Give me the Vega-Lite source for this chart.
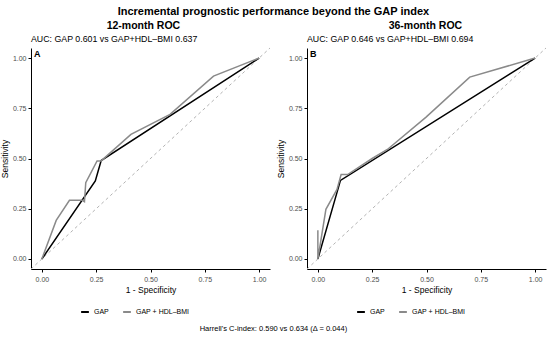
{
  "$schema": "https://vega.github.io/schema/vega-lite/v6.json",
  "padding": {"left": 0, "right": 5, "top": 6, "bottom": 2},
  "config": {
    "font": "Liberation Sans",
    "view": {"stroke": null},
    "axis": {"grid": false, "domainColor": "black", "tickColor": "black", "tickSize": 3, "labelFontSize": 7, "labelColor": "#4d4d4d", "titleFontSize": 8.5, "titleFontWeight": "normal", "titleColor": "black", "labelPadding": 2, "titlePadding": 3, "domainWidth": 1, "tickWidth": 1},
    "axisX": {"labelPadding": 3},
    "legend": {"orient": "bottom", "direction": "horizontal", "labelFontSize": 7, "labelColor": "black", "symbolType": "stroke", "symbolStrokeWidth": 2, "symbolSize": 60, "columnPadding": 10, "offset": 13, "layout": {"bottom": {"anchor": "middle"}}}
  },
  "title": {"text": "Incremental prognostic performance beyond the GAP index", "fontSize": 11, "fontWeight": "bold", "anchor": "middle", "offset": 4},
  "datasets": {
    "roc12": [
      {"model": "GAP", "i": 1, "fpr": 0, "tpr": 0},
      {"model": "GAP", "i": 2, "fpr": 0.246, "tpr": 0.388},
      {"model": "GAP", "i": 3, "fpr": 0.273, "tpr": 0.49},
      {"model": "GAP", "i": 4, "fpr": 1, "tpr": 1},
      {"model": "GAP + HDL–BMI", "i": 1, "fpr": 0, "tpr": 0},
      {"model": "GAP + HDL–BMI", "i": 2, "fpr": 0.066, "tpr": 0.192},
      {"model": "GAP + HDL–BMI", "i": 3, "fpr": 0.127, "tpr": 0.292},
      {"model": "GAP + HDL–BMI", "i": 4, "fpr": 0.186, "tpr": 0.292},
      {"model": "GAP + HDL–BMI", "i": 5, "fpr": 0.196, "tpr": 0.285},
      {"model": "GAP + HDL–BMI", "i": 6, "fpr": 0.202, "tpr": 0.38},
      {"model": "GAP + HDL–BMI", "i": 7, "fpr": 0.254, "tpr": 0.488},
      {"model": "GAP + HDL–BMI", "i": 8, "fpr": 0.273, "tpr": 0.488},
      {"model": "GAP + HDL–BMI", "i": 9, "fpr": 0.41, "tpr": 0.62},
      {"model": "GAP + HDL–BMI", "i": 10, "fpr": 0.59, "tpr": 0.72},
      {"model": "GAP + HDL–BMI", "i": 11, "fpr": 0.79, "tpr": 0.91},
      {"model": "GAP + HDL–BMI", "i": 12, "fpr": 1, "tpr": 1}
    ],
    "roc36": [
      {"model": "GAP", "i": 1, "fpr": 0, "tpr": 0},
      {"model": "GAP", "i": 2, "fpr": 0.104, "tpr": 0.391},
      {"model": "GAP", "i": 3, "fpr": 1, "tpr": 1},
      {"model": "GAP + HDL–BMI", "i": 1, "fpr": 0, "tpr": 0.143},
      {"model": "GAP + HDL–BMI", "i": 2, "fpr": 0, "tpr": 0},
      {"model": "GAP + HDL–BMI", "i": 3, "fpr": 0.037, "tpr": 0.247},
      {"model": "GAP + HDL–BMI", "i": 4, "fpr": 0.088, "tpr": 0.346},
      {"model": "GAP + HDL–BMI", "i": 5, "fpr": 0.107, "tpr": 0.42},
      {"model": "GAP + HDL–BMI", "i": 6, "fpr": 0.137, "tpr": 0.42},
      {"model": "GAP + HDL–BMI", "i": 7, "fpr": 0.25, "tpr": 0.5},
      {"model": "GAP + HDL–BMI", "i": 8, "fpr": 0.32, "tpr": 0.545},
      {"model": "GAP + HDL–BMI", "i": 9, "fpr": 0.498, "tpr": 0.706},
      {"model": "GAP + HDL–BMI", "i": 10, "fpr": 0.699, "tpr": 0.905},
      {"model": "GAP + HDL–BMI", "i": 11, "fpr": 1, "tpr": 1}
    ],
    "diag": [{"x": -0.05, "y": -0.05, "x2": 1.05, "y2": 1.05}]
  },
  "vconcat": [
    {
      "title": {"text": "Harrell's C-index: 0.590 vs 0.634 (Δ = 0.044)", "orient": "bottom", "fontSize": 7.5, "fontWeight": "normal", "anchor": "middle", "offset": 9},
      "spacing": 5,
      "resolve": {"scale": {"color": "independent"}, "legend": {"color": "independent"}},
      "hconcat": [
        {
          "title": {"text": "12-month ROC", "fontSize": 10.5, "fontWeight": "bold", "anchor": "middle", "offset": 3, "dx": 8},
          "vconcat": [
            {
              "title": {"text": "AUC: GAP 0.601 vs GAP+HDL–BMI 0.637", "anchor": "start", "frame": "group", "fontSize": 8.8, "fontWeight": "normal", "offset": 4},
              "width": 239,
              "height": 221,
              "layer": [
                {
                  "data": {"name": "diag"},
                  "mark": {"type": "rule", "color": "#b3b3b3", "strokeDash": [3, 3], "strokeWidth": 1},
                  "encoding": {
                    "x": {"field": "x", "type": "quantitative", "scale": {"domain": [-0.05, 1.05], "nice": false, "zero": false}},
                    "y": {"field": "y", "type": "quantitative", "scale": {"domain": [-0.05, 1.05], "nice": false, "zero": false}},
                    "x2": {"field": "x2"},
                    "y2": {"field": "y2"}
                  }
                },
                {
                  "data": {"name": "roc12"},
                  "mark": {"type": "line", "strokeWidth": 1.5},
                  "encoding": {
                    "x": {"field": "fpr", "type": "quantitative", "title": "1 - Specificity", "scale": {"domain": [-0.05, 1.05], "nice": false, "zero": false}, "axis": {"values": [0, 0.25, 0.5, 0.75, 1], "format": ".2f"}},
                    "y": {"field": "tpr", "type": "quantitative", "title": "Sensitivity", "scale": {"domain": [-0.05, 1.05], "nice": false, "zero": false}, "axis": {"values": [0, 0.25, 0.5, 0.75, 1], "format": ".2f"}},
                    "color": {"field": "model", "type": "nominal", "title": null, "scale": {"domain": ["GAP", "GAP + HDL–BMI"], "range": ["#000000", "#8a8a8a"]}},
                    "order": {"field": "i", "type": "quantitative"}
                  }
                },
                {
                  "data": {"values": [{"tag": "A", "x": -0.05, "y": 1.05}]},
                  "mark": {"type": "text", "align": "left", "baseline": "top", "fontWeight": "bold", "fontSize": 9, "dx": 3, "dy": 2},
                  "encoding": {
                    "x": {"field": "x", "type": "quantitative"},
                    "y": {"field": "y", "type": "quantitative"},
                    "text": {"field": "tag"}
                  }
                }
              ]
            }
          ]
        },
        {
          "title": {"text": "36-month ROC", "fontSize": 10.5, "fontWeight": "bold", "anchor": "middle", "offset": 3, "dx": 14},
          "vconcat": [
            {
              "title": {"text": "AUC: GAP 0.646 vs GAP+HDL–BMI 0.694", "anchor": "start", "frame": "group", "fontSize": 8.8, "fontWeight": "normal", "offset": 4},
              "width": 239,
              "height": 221,
              "layer": [
                {
                  "data": {"name": "diag"},
                  "mark": {"type": "rule", "color": "#b3b3b3", "strokeDash": [3, 3], "strokeWidth": 1},
                  "encoding": {
                    "x": {"field": "x", "type": "quantitative", "scale": {"domain": [-0.05, 1.05], "nice": false, "zero": false}},
                    "y": {"field": "y", "type": "quantitative", "scale": {"domain": [-0.05, 1.05], "nice": false, "zero": false}},
                    "x2": {"field": "x2"},
                    "y2": {"field": "y2"}
                  }
                },
                {
                  "data": {"name": "roc36"},
                  "mark": {"type": "line", "strokeWidth": 1.5},
                  "encoding": {
                    "x": {"field": "fpr", "type": "quantitative", "title": "1 - Specificity", "scale": {"domain": [-0.05, 1.05], "nice": false, "zero": false}, "axis": {"values": [0, 0.25, 0.5, 0.75, 1], "format": ".2f"}},
                    "y": {"field": "tpr", "type": "quantitative", "title": "Sensitivity", "scale": {"domain": [-0.05, 1.05], "nice": false, "zero": false}, "axis": {"values": [0, 0.25, 0.5, 0.75, 1], "format": ".2f"}},
                    "color": {"field": "model", "type": "nominal", "title": null, "scale": {"domain": ["GAP", "GAP + HDL–BMI"], "range": ["#000000", "#8a8a8a"]}},
                    "order": {"field": "i", "type": "quantitative"}
                  }
                },
                {
                  "data": {"values": [{"tag": "B", "x": -0.05, "y": 1.05}]},
                  "mark": {"type": "text", "align": "left", "baseline": "top", "fontWeight": "bold", "fontSize": 9, "dx": 3, "dy": 2},
                  "encoding": {
                    "x": {"field": "x", "type": "quantitative"},
                    "y": {"field": "y", "type": "quantitative"},
                    "text": {"field": "tag"}
                  }
                }
              ]
            }
          ]
        }
      ]
    }
  ]
}
